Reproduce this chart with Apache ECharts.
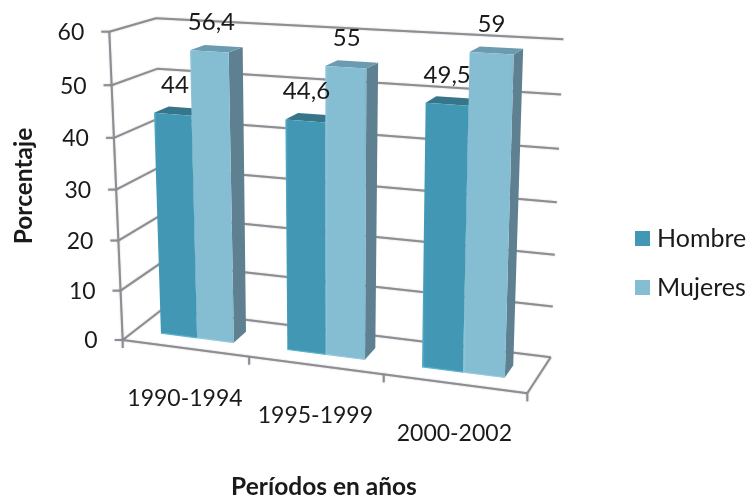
<!DOCTYPE html>
<html><head><meta charset="utf-8">
<style>html,body{margin:0;padding:0;background:#fff}#c{width:749px;height:497px}</style>
<script src="https://cdn.jsdelivr.net/npm/echarts@6/dist/echarts.min.js"></script>
</head><body><div id="c"></div>
<script>
const categories = ['1990-1994','1995-1999','2000-2002'];
const hombre = [44,44.6,49.5];
const mujeres = [56.4,55,59];
const hombreLabels = ['44','44,6','49,5'];
const mujeresLabels = ['56,4','55','59'];
const yTicks = [0,10,20,30,40,50,60];

// Projection of the chart's 3D box onto the page (u: along categories, v: depth, w: height, all 0..1)
const CORNERS = {
  A:[122.7,340], A1:[109.3,31.7], B:[162,309.5], B1:[156,18.3],
  C:[527.3,393.3], C1:[537,56], D:[550.7,357.3], D1:[563.3,39.3]
};
const warp=(t,r)=>t/(t+(1-t)*r);
function P(u,v,w){
  const U=warp(u,1.1), W=warp(w,1.05);
  const L=(a,b,t)=>[a[0]+(b[0]-a[0])*t,a[1]+(b[1]-a[1])*t];
  const c=CORNERS;
  const f=L(L(c.A,c.C,U),L(c.A1,c.C1,U),W);
  const k=L(L(c.B,c.D,U),L(c.B1,c.D1,U),W);
  return L(f,k,v);
}
const FONT='Lato';
const GRID='#8d8d94';
const TXT='#1a1a1a';
const line=(a,b)=>({type:'line',shape:{x1:a[0],y1:a[1],x2:b[0],y2:b[1]},style:{stroke:GRID,lineWidth:2,shadowBlur:1.5,shadowColor:'rgba(120,120,120,0.5)'}});
const text=(s,x,y,align,size)=>({type:'text',style:{text:s,x,y,align:align||'center',verticalAlign:'middle',fontSize:size||23,fontFamily:FONT,fill:TXT}});
const norm=(api,params,x,y)=>{
  const cs=params.coordSys;
  const p=api.coord([x,y]);
  return [(p[0]-cs.x)/cs.width,1-(p[1]-cs.y)/cs.height,cs];
};

function wallItem(params,api){
  const val=api.value(0);
  const n=norm(api,params,0,val), w=n[1];
  const a=P(0,0,w), b=P(0,1,w), d=P(1,1,w);
  const kids=[line(a,b),line(b,d),line([a[0]-8,a[1]],a),text(String(val),a[0]-25,a[1]+1,'right')];
  return {type:'group',children:kids};
}
function frameItem(){
  const kids=[line(P(0,0,0),P(0,0,1)),line(P(0,0,0),P(1,0,0)),line(P(1,0,0),P(1,1,0))];
  return {type:'group',children:kids};
}
function catItem(params,api){
  const i=api.value(0);
  const n=norm(api,params,i,0), u=n[0];
  const half=1/(2*categories.length);
  const t=P(u+half,0,0), m=P(u,0,0);
  return {type:'group',children:[
    line(t,[t[0],t[1]+8]),
    text(categories[i],m[0],m[1]+50)
  ].concat(i===0?[line(P(0,0,0),[P(0,0,0)[0],P(0,0,0)[1]+8])]:[])};
}
function poly(points,fill){return {type:'polygon',shape:{points},style:{fill}};}
function grad(a,b,c){return {type:'linear',x:0,y:0,x2:1,y2:0,colorStops:[{offset:0,color:a},{offset:.06,color:b},{offset:.94,color:b},{offset:1,color:c}]};}
const bw=0.2925/categories.length;
function barGeom(side,api,params){
  const i=api.value(0), val=api.value(1);
  const n=norm(api,params,i,val);
  const c=n[0], w=n[1];
  const u0=side<0?c-bw:c, u1=side<0?c:c+bw;
  return {i,u0,u1,w,v0:.33,v1:.67};
}
function barRenderer(side,cols){
  return function(params,api){
    const g=barGeom(side,api,params);
    const fl0=P(g.u0,g.v0,0),fr0=P(g.u1,g.v0,0),fl=P(g.u0,g.v0,g.w),fr=P(g.u1,g.v0,g.w),bl=P(g.u0,g.v1,g.w),br=P(g.u1,g.v1,g.w),br0=P(g.u1,g.v1,0);
    return {type:'group',children:[
      poly([fr0,br0,br,fr],cols.side),
      poly([fl,fr,br,bl],cols.top),
      poly([fl0,fr0,fr,fl],grad(cols.edge,cols.front,cols.frontEnd)),
      {type:'line',shape:{x1:fl0[0],y1:fl0[1],x2:fr0[0],y2:fr0[1]},style:{stroke:cols.edge,lineWidth:1.2}}
    ]};
  };
}
function labelRenderer(side,labels){
  return function(params,api){
    const g=barGeom(side,api,params);
    const um=(g.u0+g.u1)/2;
    const top=P(um,(g.v0+g.v1)/2,g.w);
    return text(labels[g.i],top[0]-5,top[1]-26,'center',24);
  };
}
const HOMBRE_STYLE={front:'#4298b4',frontEnd:'#4298b4',edge:'#5cb4cc',top:'#37758a',side:'#37758a'};
const MUJERES_STYLE={front:'#85bdd3',frontEnd:'#7fb5cb',edge:'#98c9dc',top:'#6a9bb0',side:'#5e8091'};

const chart=echarts.init(document.getElementById('c'),null,{renderer:'canvas'});
chart.setOption({
  animation:false,
  backgroundColor:'#fff',
  color:['#4298b4','#85bdd3'],
  grid:{left:100,right:200,top:20,bottom:100},
  xAxis:{type:'category',data:categories,show:false},
  yAxis:{type:'value',min:0,max:60,interval:10,show:false},
  legend:{
    orient:'vertical',left:630,top:221,itemWidth:15,itemHeight:15,itemGap:24,
    icon:'rect',data:['Hombre','Mujeres'],
    textStyle:{fontFamily:FONT,fontSize:25,color:TXT,padding:[0,0,0,2]},itemStyle:{borderWidth:0}
  },
  graphic:[
    {type:'text',x:324,y:487,style:{text:'Períodos en años',fontFamily:FONT,fontWeight:'bold',fontSize:24.5,fill:TXT,align:'center',verticalAlign:'middle'}},
    {type:'text',x:24,y:186,rotation:Math.PI/2,style:{text:'Porcentaje',fontFamily:FONT,fontWeight:'bold',fontSize:24.5,fill:TXT,align:'center',verticalAlign:'middle'}}
  ],
  series:[
    {type:'custom',silent:true,z:1,clip:false,data:yTicks.map(v=>[v]),encode:{y:0},renderItem:wallItem},
    {type:'custom',silent:true,z:1,clip:false,data:[[0]],encode:{y:0},renderItem:frameItem},
    {type:'custom',silent:true,z:1,clip:false,data:categories.map((c,i)=>[i]),encode:{x:0},renderItem:catItem},
    {name:'Hombre',type:'custom',z:2,clip:false,itemStyle:{color:'#4298b4'},data:hombre.map((v,i)=>[i,v]),encode:{x:0,y:1},renderItem:barRenderer(-1,HOMBRE_STYLE)},
    {name:'Mujeres',type:'custom',z:3,clip:false,itemStyle:{color:'#85bdd3'},data:mujeres.map((v,i)=>[i,v]),encode:{x:0,y:1},renderItem:barRenderer(1,MUJERES_STYLE)},
    {type:'custom',silent:true,z:4,clip:false,data:hombre.map((v,i)=>[i,v]),encode:{x:0,y:1},renderItem:labelRenderer(-1,hombreLabels)},
    {type:'custom',silent:true,z:4,clip:false,data:mujeres.map((v,i)=>[i,v]),encode:{x:0,y:1},renderItem:labelRenderer(1,mujeresLabels)}
  ]
});
</script></body></html>
